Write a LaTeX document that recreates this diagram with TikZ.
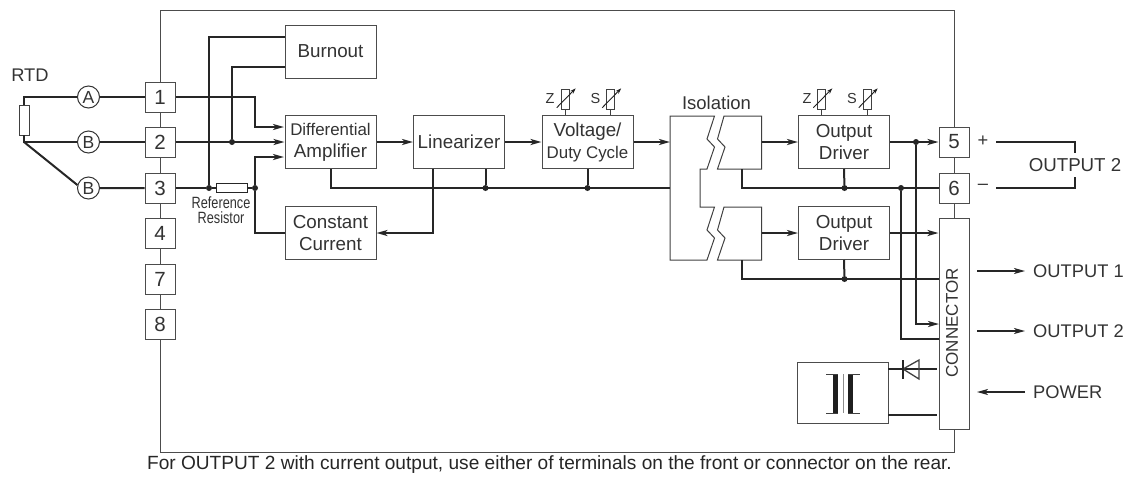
\documentclass[tikz,border=0pt]{standalone}
\usepackage{fontspec}
\setmainfont{Liberation Sans}
\newfontfamily\narrowfont[FakeStretch=.78]{Liberation Sans}
\usetikzlibrary{arrows.meta}

\begin{document}
\begin{tikzpicture}[x=1pt,y=-1pt]
    \tikzstyle{wire}=[line width=2pt,black!85];
    \tikzstyle{thin}=[line width=1pt,black!75];
    \tikzstyle{arrow}=[-{Stealth[length=11pt,width=6pt,inset=3pt]}];
    \tikzstyle{block}=[draw=black!70,line width=1pt,fill=white,minimum
    width=91pt,minimum height=53pt,inner sep=0pt,align=center,font=\fontsize{18.8}{22}\selectfont,text=black!80];
    \tikzstyle{term}=[draw=black!70,line width=1pt,fill=white,minimum
    size=30pt,inner sep=0pt,font=\fontsize{20.5}{22}\selectfont,text=black!80];
    \tikzstyle{lead}=[draw=black!80,line width=1pt,fill=white,circle,minimum
    size=22pt,inner sep=0pt,font=\fontsize{17.5}{20}\selectfont,text=black!80];
    \tikzstyle{dot}=[circle,fill=black!85,minimum size=6pt,inner sep=0pt];
    \tikzstyle{res}=[draw=black!75,line width=.9pt,fill=white,minimum
    width=8pt,minimum height=20pt,inner sep=0pt];
    \tikzstyle{tag}=[inner sep=0pt,font=\fontsize{18.3}{20}\selectfont,text=black!80];
    \tikzstyle{small}=[inner sep=0pt,font=\fontsize{14.5}{16}\selectfont,text=black!80];

    \useasboundingbox (0,0) rectangle (1127,477);

    \node (casing) [draw=black!70,line width=.9pt,minimum width=794pt,minimum
    height=442pt,inner sep=0pt] at (557,231) {};

    % terminals
    \node (t1) [term] at (160,97) {1}; \node (t2) [term] at (160,142) {2};
    \node (t3) [term] at (160,188) {3}; \node (t4) [term] at (160,233) {4};
    \node (t7) [term] at (160,279) {7}; \node (t8) [term] at (160,324) {8};
    \node (t5) [term] at (954,142) {5}; \node (t6) [term] at (954,188) {6};
    \node (conn) [term,minimum width=30pt,minimum height=211pt] at (954,323.5) {};
    \node (connlabel) [tag,font=\fontsize{17}{20}\selectfont,rotate=90] at (952,323) {CONNECTOR};

    % sensor
    \node (rtd) [tag] at (30,75) {RTD};
    \node (sensor) [res,minimum width=10pt,minimum height=30pt] at (24,120) {};
    \node (la) [lead] at (88.5,97) {A}; \node (lb) [lead] at (88.5,142) {B};
    \node (lc) [lead] at (88.5,188) {B};
    \coordinate (rtdtop) at (24,97); \coordinate (rtdlow) at (24,142);

    % blocks
    \node (burn) [block] at (330.5,51.5) {Burnout};
    \node (diff) [block] at (330.5,142) {{\fontsize{16.9}{22}\selectfont Differential}\\Amplifier};
    \node (cur) [block] at (330.5,233) {Constant\\Current};
    \node (lin) [block] at (459,142) {Linearizer};
    \node (volt) [block] at (587.5,142) {Voltage/\\{\fontsize{16.9}{22}\selectfont Duty Cycle}};
    \node (drv1) [block] at (844,142) {Output\\Driver};
    \node (drv2) [block] at (844,233) {Output\\Driver};
    \node (rref) [draw=black!85,line width=1pt,minimum width=30.5pt,minimum
    height=9pt,inner sep=0pt] at (232,188) {};
    \node (rreflabel) [inner sep=0pt,align=center,text=black!80,font=\narrowfont\fontsize{16.3}{15}\selectfont]
    at (221,210.5) {Reference\\Resistor};

    % isolation
    \node (isolabel) [tag,font=\fontsize{18.5}{20}\selectfont] at (716.5,103) {Isolation};
    \draw[thin] (670,116) -- (714.5,116) -- (707,139) -- (714.5,147) -- (707,169) -- (700,169)
    -- (700,207) -- (714.5,207) -- (707,230) -- (714.5,238) -- (707,260) -- (670,260) -- cycle;
    \draw[thin] (724,116) -- (717.5,139) -- (725,147) -- (717.5,169) -- (761.5,169)
    -- (761.5,116) -- cycle;
    \draw[thin] (724,207) -- (717.5,230) -- (725,238) -- (717.5,260) -- (761.5,260)
    -- (761.5,207) -- cycle;
    \coordinate (isoin) at (670,142); \coordinate (isobus) at (670,188);
    \coordinate (isoa) at (761.5,142); \coordinate (isob) at (761.5,233);
    \coordinate (isoc) at (742,169); \coordinate (isod) at (742,260);

    % span and zero trimmers
    \node (zv) [res] at (565,99) {}; \node (zvl) [small] at (550,99) {Z};
    \node (sv) [res] at (610.5,99) {}; \node (svl) [small] at (595.5,99) {S};
    \node (zd) [res] at (821.7,99) {}; \node (zdl) [small] at (807,99) {Z};
    \node (sd) [res] at (867,99) {}; \node (sdl) [small] at (852,99) {S};
    \draw[thin] (zv) -- (zv |- volt.north) (sv) -- (sv |- volt.north)
    (zd) -- (zd |- drv1.north) (sd) -- (sd |- drv1.north);
    \tikzstyle{trim}=[line width=.9pt,black!88,-{Stealth[length=6pt,width=4pt]}];
    \draw[trim] ([shift={(-8.3,8.7)}]zv.center) -- ([shift={(10.7,-10.7)}]zv.center);
    \draw[trim] ([shift={(-8.3,8.7)}]sv.center) -- ([shift={(10.7,-10.7)}]sv.center);
    \draw[trim] ([shift={(-8.3,8.7)}]zd.center) -- ([shift={(10.7,-10.7)}]zd.center);
    \draw[trim] ([shift={(-8.3,8.7)}]sd.center) -- ([shift={(10.7,-10.7)}]sd.center);

    % junctions
    \node (j1) [dot] at (232,142) {}; \node (j2) [dot] at (209,188) {};
    \node (j3) [dot] at (255,188) {}; \node (j4) [dot] at (485.5,188) {};
    \node (j5) [dot] at (587.5,188) {}; \node (j6) [dot] at (844.5,188) {};
    \node (j7) [dot] at (901,188) {}; \node (j8) [dot] at (916,142) {};
    \node (j9) [dot] at (844.5,279) {};

    % sensor side wiring
    \draw[wire] (sensor.north) -- (rtdtop) -- (la) (la) -- (t1);
    \draw[wire] (sensor.south) -- (rtdlow) -- (lb) (lb) -- (t2);
    \draw[wire] (rtdlow) -- (lc.165) (lc) -- (t3);
    \draw[wire] (t3) -- (j2) -- (rref) (rref) -- (j3);
    \coordinate (diffa) at (284,127); \coordinate (diffc) at (284,157);
    \coordinate (burna) at (285,37); \coordinate (burnb) at (285,67);
    \coordinate (benda) at (255,97);
    \draw[wire] (j2) |- (burna); \draw[wire] (j1) |- (burnb);
    \draw[wire,arrow] (t1.east) -- (benda) |- (diffa);
    \draw[wire,arrow] (t2.east) -- (diff.west);
    \draw[wire,arrow] (j3) |- (diffc);
    \draw[wire] (j3) |- (cur.west);

    % main chain
    \draw[wire,arrow] (diff) -- (lin);
    \draw[wire,arrow] (lin) -- (volt);
    \draw[wire,arrow] (volt) -- (isoin);
    \draw[wire,arrow] (isoa) -- (drv1);
    \draw[wire,arrow] (isob) -- (drv2);
    \coordinate (linleft) at (433,168.5); \coordinate (curin) at (433,233);
    \draw[wire,arrow] (linleft) -- (curin) -- (cur.east);
    \draw[wire] (diff.south) |- (isobus);
    \draw[wire] (j4) -- (j4 |- lin.south) (j5) -- (volt.south);
    \draw[wire] (isoc) |- (t6.west);
    \draw[wire] (j6) -- (drv1.south);
    \draw[wire] (isod) |- (conn.west |- j9);
    \draw[wire] (j9) -- (drv2.south);

    % output side wiring
    \draw[wire,arrow] (drv1) -- (t5);
    \draw[wire,arrow] (drv2.east) -- (conn.west |- drv2.east);
    \coordinate (connb) at (939,324); \coordinate (connc) at (939,339);
    \draw[wire,arrow] (j8) |- (connb);
    \draw[wire] (j7) |- (connc);

    % outputs
    \node (plus) [tag] at (983,141) {+}; \node (minus) [tag] at (983,187) {--};
    \node (out2a) [tag,font=\fontsize{18.7}{20}\selectfont] at (1075,165) {OUTPUT 2};
    \coordinate (a1) at (996,142); \coordinate (a2) at (996,188);
    \coordinate (b1) at (1075,153); \coordinate (b2) at (1075,177);
    \draw[wire] (a1) -| (b1); \draw[wire] (a2) -| (b2);
    \node (out1) [tag,anchor=west] at (1033,271) {OUTPUT 1};
    \node (out2) [tag,anchor=west] at (1033,331) {OUTPUT 2};
    \node (power) [tag,anchor=west] at (1033,392) {POWER};
    \coordinate (p1) at (977,271); \coordinate (p2) at (977,331);
    \coordinate (p3) at (977,392); \coordinate (q1) at (1025,271);
    \coordinate (q2) at (1025,331); \coordinate (q3) at (1025,392);
    \draw[wire,line width=1.5pt,arrow] (p1) -- (q1);
    \draw[wire,line width=1.5pt,arrow] (p2) -- (q2);
    \draw[wire,line width=1.5pt,arrow] (q3) -- (p3);

    % supply
    \node (psu) [block,minimum height=61pt] at (842.5,392.5) {};
    \coordinate (psua) at (888,369); \coordinate (psub) at (888,415);
    \coordinate (conna) at (937,369); \coordinate (connd) at (937,415);
    \draw[wire] (psua) -- (conna); \draw[wire] (psub) -- (connd);
    \draw[thin,line width=1.3pt] (903,369) -- (919,360) -- (919,379) -- cycle;
    \draw[wire] (903,360) -- (903,379);
    % transformer
    \draw[line width=5pt,black!88] (835.5,374) -- (835.5,413) (850.5,374) -- (850.5,413);
    \draw[thin] (826,374) -- (838,374) (826,413) -- (838,413)
    (848,374) -- (860,374) (848,413) -- (860,413);
    \draw[line width=1.8pt,black!45] (843.5,374) -- (843.5,413);

    \node (note) [inner sep=0pt,text=black!85,font=\fontsize{19.1}{22}\selectfont] at (549.5,465)
    {For OUTPUT 2 with current output, use either of terminals on the front or connector on the rear.};
  \end{tikzpicture}
\end{document}
